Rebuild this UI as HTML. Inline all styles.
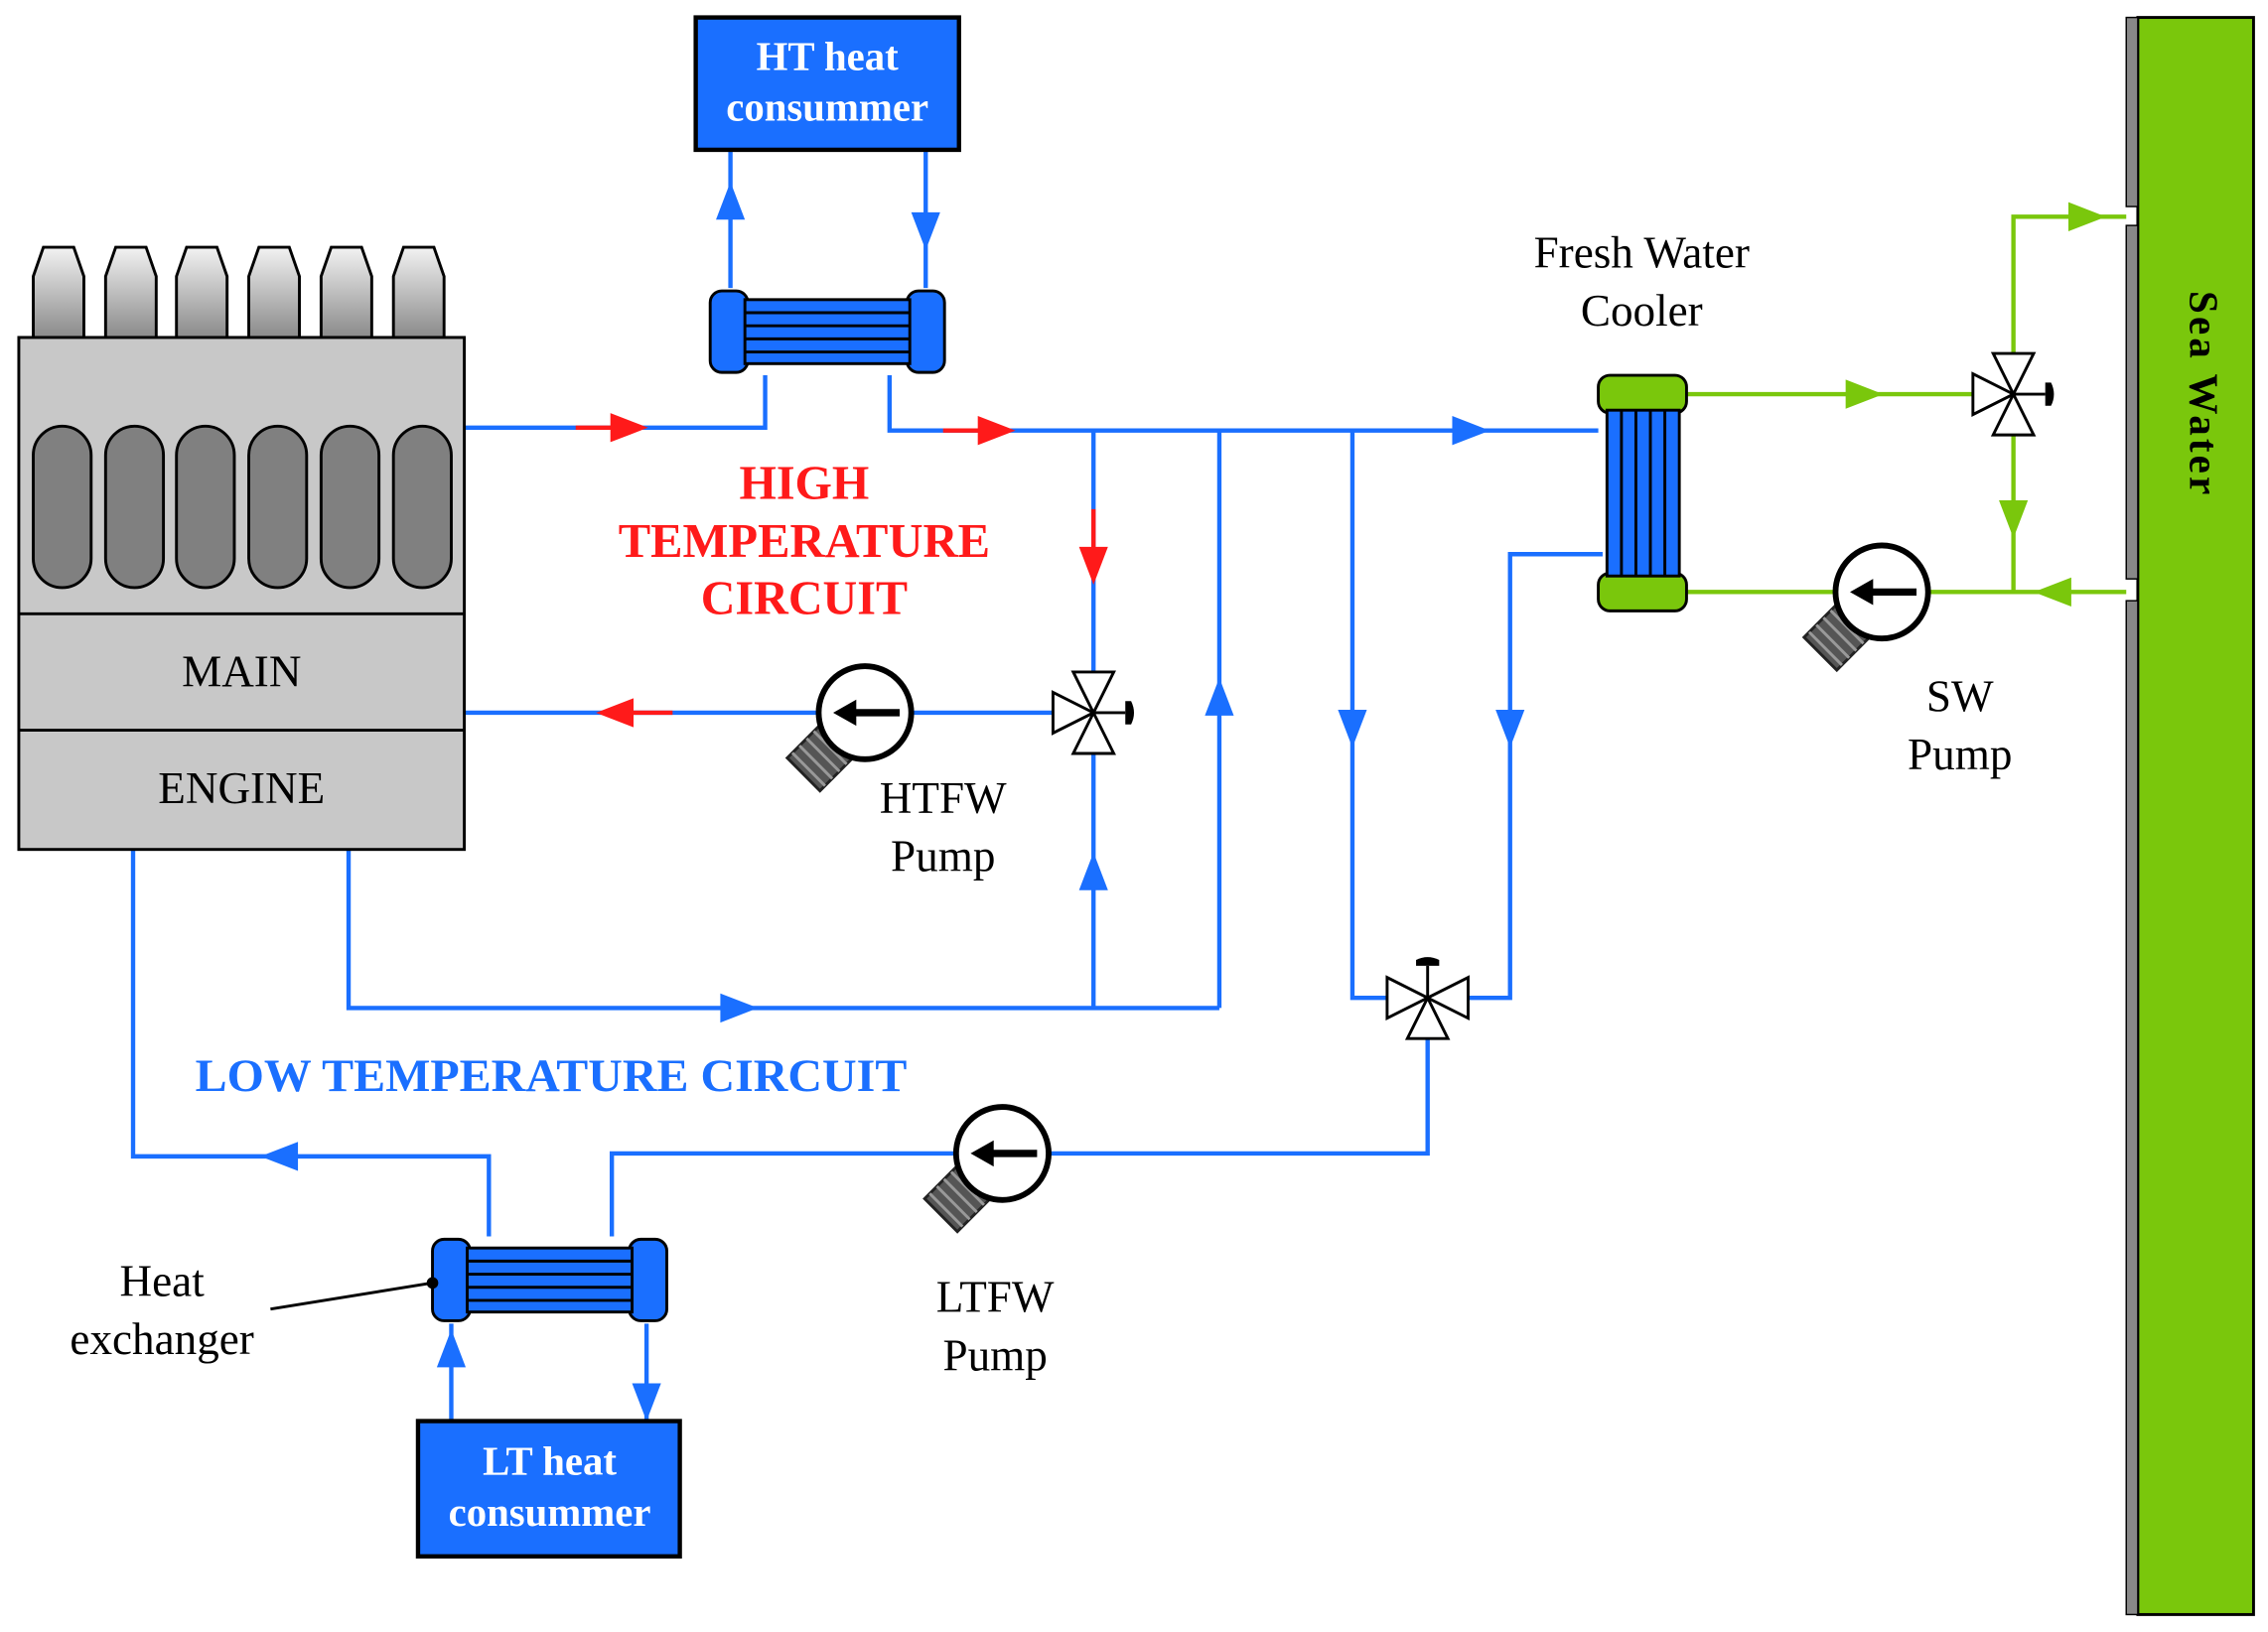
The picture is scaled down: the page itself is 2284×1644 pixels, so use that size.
<!DOCTYPE html>
<html><head><meta charset="utf-8"><style>
html,body{margin:0;padding:0;background:#fff;}
svg{display:block;}
text{font-family:"Liberation Serif",serif;}
</style></head><body>
<svg width="2284" height="1644" viewBox="0 0 1568 1122" preserveAspectRatio="none" xmlns="http://www.w3.org/2000/svg">
<defs>
<linearGradient id="hd" x1="0" y1="0" x2="0" y2="1"><stop offset="0" stop-color="#f2f2f2"/><stop offset="1" stop-color="#8a8a8a"/></linearGradient>
<g id="pump"><g transform="rotate(-45)"><rect x="-60" y="-16" width="34" height="32" fill="#555" stroke="#222" stroke-width="2"/><line x1="-55" y1="-16" x2="-55" y2="16" stroke="#999" stroke-width="2"/><line x1="-48" y1="-16" x2="-48" y2="16" stroke="#999" stroke-width="2"/><line x1="-41" y1="-16" x2="-41" y2="16" stroke="#999" stroke-width="2"/><line x1="-34" y1="-16" x2="-34" y2="16" stroke="#999" stroke-width="2"/><rect x="-28" y="-9" width="8" height="18" fill="#555" stroke="#222" stroke-width="2"/></g>
<circle r="32" fill="#fff" stroke="#000" stroke-width="4"/><line x1="-8" y1="0" x2="24" y2="0" stroke="#000" stroke-width="5"/><polygon points="-22,0 -6,-9 -6,9" fill="#000"/></g>
<g id="valveH"><polygon points="-28,-14 0,0 -28,14" fill="#fff" stroke="#000" stroke-width="2"/><polygon points="0,0 -14,-28 14,-28" fill="#fff" stroke="#000" stroke-width="2"/><polygon points="0,0 -14,28 14,28" fill="#fff" stroke="#000" stroke-width="2"/><line x1="0" y1="0" x2="22" y2="0" stroke="#000" stroke-width="2"/><path d="M22,-8 L26,-8 Q30,0 26,8 L22,8 Z" fill="#000"/></g>
<g id="hx"><rect x="0" y="2" width="26" height="56" rx="8" fill="#1a6fff" stroke="#000" stroke-width="2"/><rect x="136" y="2" width="26" height="56" rx="8" fill="#1a6fff" stroke="#000" stroke-width="2"/><rect x="24" y="8" width="114" height="44" fill="#1a6fff" stroke="#000" stroke-width="2"/><g stroke="#000" stroke-width="2"><line x1="24" y1="17" x2="138" y2="17"/><line x1="24" y1="26" x2="138" y2="26"/><line x1="24" y1="35" x2="138" y2="35"/><line x1="24" y1="44" x2="138" y2="44"/></g></g>
</defs>
<rect width="1568" height="1122" fill="#fff"/>
<g stroke="#1a6fff" stroke-width="3" fill="none">
<polyline points="321,294 529,294 529,258"/>
<polyline points="615,258 615,296 1105,296"/>
<line x1="505" y1="198" x2="505" y2="103"/>
<line x1="640" y1="103" x2="640" y2="198"/>
<line x1="756" y1="296" x2="756" y2="463"/>
<line x1="756" y1="518" x2="756" y2="693"/>
<line x1="843" y1="296" x2="843" y2="693"/>
<polyline points="241,584 241,693 843,693"/>
<line x1="321" y1="490" x2="728" y2="490"/>
<polyline points="935,296 935,686 959,686"/>
<polyline points="1015,686 1044,686 1044,381 1108,381"/>
<polyline points="987,714 987,793 423,793 423,850"/>
<polyline points="92,584 92,795 338,795 338,850"/>
<line x1="447" y1="910" x2="447" y2="977"/>
<line x1="312" y1="977" x2="312" y2="910"/>
</g>
<g stroke="#ff1a1a" stroke-width="3"><line x1="398" y1="294" x2="430" y2="294"/><line x1="652" y1="296" x2="685" y2="296"/><line x1="756" y1="350" x2="756" y2="385"/><line x1="430" y1="490" x2="465" y2="490"/></g>
<g fill="#ff1a1a"><polygon points="448,294 422,284 422,304"/><polygon points="702,296 676,286 676,306"/><polygon points="756,402 746,376 766,376"/><polygon points="412,490 438,480 438,500"/></g>
<g fill="#1a6fff">
<polygon points="1030,296 1004,286 1004,306"/>
<polygon points="505,125 495,151 515,151"/><polygon points="640,172 630,146 650,146"/>
<polygon points="756,586 746,612 766,612"/><polygon points="843,466 833,492 853,492"/>
<polygon points="524,693 498,683 498,703"/>
<polygon points="935,514 925,488 945,488"/><polygon points="1044,514 1034,488 1054,488"/>
<polygon points="180,795 206,785 206,805"/>
<polygon points="447,977 437,951 457,951"/><polygon points="312,914 302,940 322,940"/>
</g>
<g stroke="#7ac70c" stroke-width="3" fill="none">
<line x1="1166" y1="271" x2="1365" y2="271"/>
<polyline points="1392,244 1392,149 1470,149"/>
<line x1="1392" y1="299" x2="1392" y2="407"/>
<line x1="1166" y1="407" x2="1470" y2="407"/>
</g>
<g fill="#7ac70c"><polygon points="1302,271 1276,261 1276,281"/><polygon points="1456,149 1430,139 1430,159"/><polygon points="1392,370 1382,344 1402,344"/><polygon points="1406,407 1432,397 1432,417"/></g>
<rect x="1478" y="12" width="80" height="1098" fill="#7ac70c" stroke="#000" stroke-width="2"/>
<rect x="1470" y="12" width="8" height="130" fill="#888" stroke="#000" stroke-width="1"/>
<rect x="1470" y="155" width="8" height="243" fill="#888" stroke="#000" stroke-width="1"/>
<rect x="1470" y="413" width="8" height="697" fill="#888" stroke="#000" stroke-width="1"/>
<text transform="translate(1514,270) rotate(90)" font-size="28" font-weight="bold" text-anchor="middle" textLength="140">Sea Water</text>
<g fill="url(#hd)" stroke="#000" stroke-width="2">
<path d="M23,232 L23,190 L30,170 L51,170 L58,190 L58,232Z"/>
<path d="M73,232 L73,190 L80,170 L101,170 L108,190 L108,232Z"/>
<path d="M122,232 L122,190 L129,170 L150,170 L157,190 L157,232Z"/>
<path d="M172,232 L172,190 L179,170 L200,170 L207,190 L207,232Z"/>
<path d="M222,232 L222,190 L229,170 L250,170 L257,190 L257,232Z"/>
<path d="M272,232 L272,190 L279,170 L300,170 L307,190 L307,232Z"/>
</g>
<rect x="13" y="232" width="308" height="352" fill="#c8c8c8" stroke="#000" stroke-width="2"/>
<line x1="13" y1="422" x2="321" y2="422" stroke="#000" stroke-width="2"/>
<line x1="13" y1="502" x2="321" y2="502" stroke="#000" stroke-width="2"/>
<g fill="#808080" stroke="#000" stroke-width="2">
<rect x="23" y="293" width="40" height="111" rx="20"/><rect x="73" y="293" width="40" height="111" rx="20"/><rect x="122" y="293" width="40" height="111" rx="20"/><rect x="172" y="293" width="40" height="111" rx="20"/><rect x="222" y="293" width="40" height="111" rx="20"/><rect x="272" y="293" width="40" height="111" rx="20"/>
</g>
<text x="167" y="472" font-size="31" text-anchor="middle">MAIN</text>
<text x="167" y="552" font-size="31" text-anchor="middle">ENGINE</text>
<rect x="481" y="12" width="182" height="91" fill="#1a6fff" stroke="#000" stroke-width="3"/>
<text x="572" y="48" font-size="28" font-weight="bold" fill="#fff" text-anchor="middle">HT heat</text>
<text x="572" y="83" font-size="28" font-weight="bold" fill="#fff" text-anchor="middle">consummer</text>
<use href="#hx" x="491" y="198"/>
<rect x="289" y="977" width="181" height="93" fill="#1a6fff" stroke="#000" stroke-width="3"/>
<text x="380" y="1014" font-size="28" font-weight="bold" fill="#fff" text-anchor="middle">LT heat</text>
<text x="380" y="1049" font-size="28" font-weight="bold" fill="#fff" text-anchor="middle">consummer</text>
<use href="#hx" x="299" y="850"/>
<line x1="187" y1="900" x2="299" y2="882" stroke="#000" stroke-width="2"/><circle cx="299" cy="882" r="4" fill="#000"/>
<rect x="1105" y="258" width="61" height="26" rx="8" fill="#7ac70c" stroke="#000" stroke-width="2"/>
<rect x="1105" y="394" width="61" height="26" rx="8" fill="#7ac70c" stroke="#000" stroke-width="2"/>
<rect x="1111" y="282" width="50" height="114" fill="#1a6fff" stroke="#000" stroke-width="2"/>
<g stroke="#000" stroke-width="2"><line x1="1121" y1="282" x2="1121" y2="396"/><line x1="1131" y1="282" x2="1131" y2="396"/><line x1="1141" y1="282" x2="1141" y2="396"/><line x1="1151" y1="282" x2="1151" y2="396"/></g>
<use href="#valveH" x="756" y="490"/>
<g transform="translate(987,686) rotate(-90)"><use href="#valveH"/></g>
<use href="#valveH" x="1392" y="271"/>
<use href="#pump" x="598" y="490"/>
<use href="#pump" x="693" y="793"/>
<use href="#pump" x="1301" y="407"/>
<g font-size="31" text-anchor="middle">
<text x="1135" y="184">Fresh Water</text><text x="1135" y="224">Cooler</text>
<text x="652" y="559">HTFW</text><text x="652" y="599">Pump</text>
<text x="688" y="902">LTFW</text><text x="688" y="942">Pump</text>
<text x="1355" y="489">SW</text><text x="1355" y="529">Pump</text>
<text x="112" y="891">Heat</text><text x="112" y="931">exchanger</text>
</g>
<g font-size="33" font-weight="bold" fill="#ff1a1a" text-anchor="middle">
<text x="556" y="343">HIGH</text><text x="556" y="383" textLength="257" lengthAdjust="spacingAndGlyphs">TEMPERATURE</text><text x="556" y="422">CIRCUIT</text>
</g>
<text x="135" y="750" font-size="32" font-weight="bold" fill="#1a6fff" textLength="492" lengthAdjust="spacingAndGlyphs">LOW TEMPERATURE CIRCUIT</text>
</svg>
</body></html>
